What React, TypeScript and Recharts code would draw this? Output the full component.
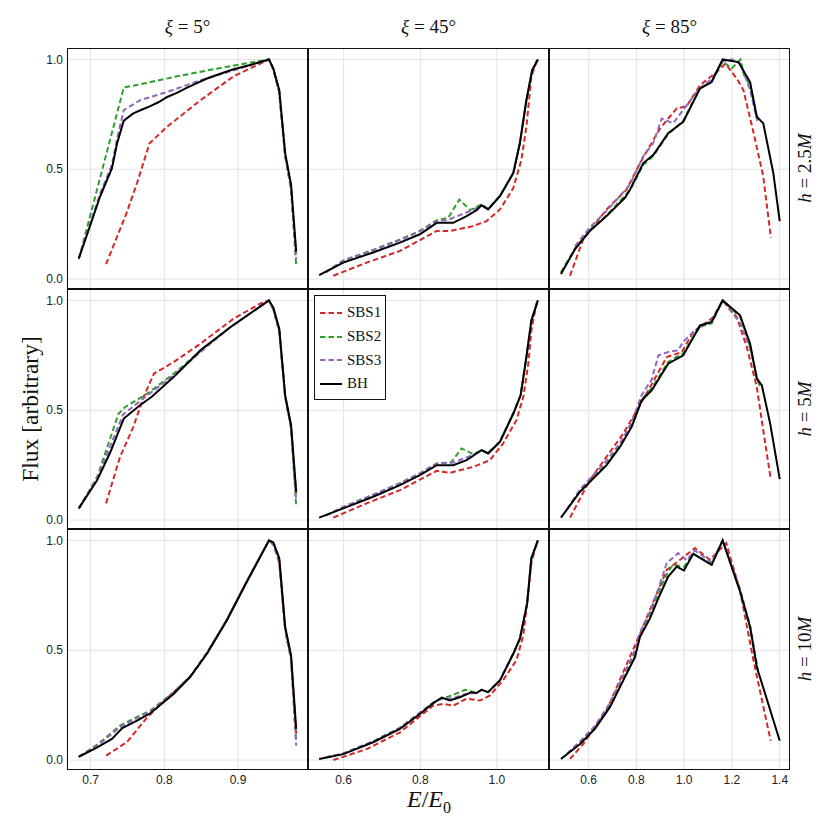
import { LineChart, Line, XAxis, YAxis, CartesianGrid } from "recharts";

type Pt = [number, number];

// ---- h = 2.5M ----
const h25_xi5_sbs1: Pt[] = [[0.721,0.068],[0.749,0.302],[0.763,0.437],[0.780,0.618],[0.804,0.694],[0.849,0.814],[0.894,0.923],[0.942,1.0],[0.948,0.955],[0.956,0.855],[0.964,0.565],[0.972,0.42],[0.979,0.10]];
const h25_xi5_sbs2: Pt[] = [[0.684,0.09],[0.745,0.872],[0.772,0.890],[0.813,0.920],[0.871,0.958],[0.942,1.0],[0.948,0.955],[0.956,0.85],[0.964,0.56],[0.972,0.41],[0.979,0.06]];
const h25_xi5_sbs3: Pt[] = [[0.684,0.094],[0.713,0.39],[0.729,0.52],[0.736,0.64],[0.745,0.769],[0.767,0.814],[0.804,0.852],[0.849,0.905],[0.894,0.950],[0.942,1.0],[0.948,0.955],[0.956,0.85],[0.964,0.56],[0.972,0.41],[0.979,0.09]];
const h25_xi5_bh: Pt[] = [[0.684,0.094],[0.697,0.22],[0.713,0.377],[0.729,0.505],[0.736,0.618],[0.745,0.721],[0.758,0.754],[0.770,0.772],[0.781,0.787],[0.792,0.805],[0.804,0.829],[0.817,0.848],[0.831,0.872],[0.845,0.893],[0.858,0.913],[0.876,0.935],[0.894,0.955],[0.918,0.976],[0.942,1.0],[0.948,0.958],[0.956,0.860],[0.964,0.573],[0.972,0.430],[0.979,0.125]];

const h25_xi45_sbs1: Pt[] = [[0.573,0.015],[0.660,0.075],[0.747,0.128],[0.843,0.219],[0.877,0.219],[0.938,0.241],[0.973,0.264],[1.008,0.317],[1.043,0.415],[1.064,0.543],[1.077,0.694],[1.090,0.920],[1.105,1.0]];
const h25_xi45_sbs2: Pt[] = [[0.553,0.03],[0.599,0.085],[0.677,0.133],[0.747,0.18],[0.799,0.22],[0.843,0.268],[0.873,0.279],[0.902,0.362],[0.930,0.314],[0.960,0.34],[0.977,0.32],[1.008,0.38],[1.043,0.485],[1.060,0.62],[1.077,0.815],[1.092,0.95],[1.107,1.0]];
const h25_xi45_sbs3: Pt[] = [[0.553,0.03],[0.599,0.082],[0.677,0.13],[0.747,0.177],[0.799,0.217],[0.843,0.265],[0.873,0.27],[0.930,0.31],[0.960,0.335],[0.977,0.318],[1.008,0.378],[1.043,0.484],[1.060,0.619],[1.077,0.814],[1.092,0.95],[1.107,1.0]];
const h25_xi45_bh: Pt[] = [[0.536,0.018],[0.599,0.075],[0.677,0.121],[0.747,0.166],[0.799,0.204],[0.843,0.256],[0.886,0.256],[0.921,0.287],[0.947,0.314],[0.960,0.336],[0.977,0.317],[1.008,0.377],[1.043,0.483],[1.060,0.618],[1.077,0.814],[1.092,0.950],[1.107,1.0]];

const h25_xi85_sbs1: Pt[] = [[0.522,0.015],[0.577,0.181],[0.675,0.317],[0.759,0.407],[0.815,0.528],[0.899,0.686],[0.969,0.777],[1.010,0.787],[1.066,0.882],[1.136,0.943],[1.173,0.98],[1.220,0.913],[1.248,0.860],[1.291,0.664],[1.331,0.467],[1.363,0.189]];
const h25_xi85_sbs2: Pt[] = [[0.484,0.03],[0.543,0.14],[0.605,0.222],[0.675,0.29],[0.773,0.405],[0.829,0.52],[0.871,0.56],[0.933,0.66],[0.996,0.72],[1.066,0.87],[1.115,0.90],[1.161,0.99],[1.20,0.96],[1.236,1.0],[1.25,0.93],[1.276,0.88],[1.306,0.73]];
const h25_xi85_sbs3: Pt[] = [[0.543,0.15],[0.605,0.235],[0.675,0.31],[0.773,0.43],[0.829,0.56],[0.871,0.62],[0.906,0.731],[0.954,0.709],[0.996,0.77],[1.066,0.87],[1.115,0.91],[1.161,0.99],[1.20,1.0],[1.236,0.98],[1.276,0.86],[1.306,0.72]];
const h25_xi85_bh: Pt[] = [[0.484,0.023],[0.543,0.136],[0.605,0.219],[0.675,0.287],[0.717,0.332],[0.752,0.37],[0.773,0.407],[0.808,0.483],[0.829,0.528],[0.871,0.566],[0.933,0.664],[0.996,0.716],[1.066,0.867],[1.115,0.897],[1.161,1.0],[1.227,0.988],[1.276,0.897],[1.304,0.739],[1.331,0.709],[1.373,0.483],[1.400,0.264]];

// ---- h = 5M ----
const h5_xi5_sbs1: Pt[] = [[0.721,0.076],[0.740,0.288],[0.758,0.424],[0.772,0.561],[0.786,0.667],[0.813,0.720],[0.849,0.803],[0.894,0.917],[0.930,0.985],[0.942,1.0],[0.948,0.96],[0.956,0.865],[0.964,0.565],[0.972,0.425],[0.979,0.12]];
const h5_xi5_sbs2: Pt[] = [[0.684,0.053],[0.709,0.197],[0.738,0.485],[0.747,0.515],[0.777,0.576],[0.813,0.667],[0.858,0.795],[0.890,0.879],[0.942,1.0],[0.948,0.96],[0.956,0.86],[0.964,0.56],[0.972,0.42],[0.979,0.06]];
const h5_xi5_sbs3: Pt[] = [[0.684,0.053],[0.709,0.19],[0.744,0.48],[0.777,0.568],[0.813,0.66],[0.858,0.79],[0.890,0.879],[0.942,1.0],[0.948,0.96],[0.956,0.86],[0.964,0.56],[0.972,0.42],[0.979,0.08]];
const h5_xi5_bh: Pt[] = [[0.684,0.053],[0.709,0.182],[0.727,0.311],[0.745,0.462],[0.767,0.523],[0.783,0.561],[0.813,0.652],[0.849,0.773],[0.890,0.879],[0.942,1.0],[0.948,0.967],[0.956,0.871],[0.964,0.568],[0.972,0.432],[0.979,0.129]];

const h5_xi45_sbs1: Pt[] = [[0.573,0.011],[0.660,0.076],[0.747,0.136],[0.843,0.224],[0.877,0.215],[0.938,0.242],[0.982,0.273],[1.016,0.348],[1.051,0.455],[1.069,0.561],[1.082,0.712],[1.090,0.864],[1.105,1.0]];
const h5_xi45_sbs2: Pt[] = [[0.553,0.02],[0.599,0.06],[0.677,0.115],[0.747,0.168],[0.799,0.213],[0.843,0.258],[0.880,0.262],[0.908,0.326],[0.938,0.30],[0.960,0.318],[0.977,0.305],[1.008,0.358],[1.043,0.487],[1.062,0.57],[1.077,0.742],[1.090,0.909],[1.107,1.0]];
const h5_xi45_sbs3: Pt[] = [[0.553,0.02],[0.599,0.06],[0.677,0.115],[0.747,0.167],[0.799,0.212],[0.843,0.258],[0.886,0.262],[0.921,0.285],[0.947,0.305],[0.960,0.318],[0.977,0.305],[1.008,0.358],[1.043,0.487],[1.062,0.57],[1.077,0.742],[1.090,0.909],[1.107,1.0]];
const h5_xi45_bh: Pt[] = [[0.536,0.011],[0.599,0.053],[0.677,0.106],[0.747,0.159],[0.799,0.205],[0.843,0.25],[0.886,0.25],[0.921,0.273],[0.947,0.303],[0.960,0.318],[0.977,0.303],[1.008,0.356],[1.043,0.485],[1.062,0.568],[1.077,0.742],[1.090,0.909],[1.107,1.0]];

const h5_xi85_sbs1: Pt[] = [[0.522,0.011],[0.605,0.182],[0.745,0.394],[0.815,0.523],[0.927,0.742],[0.990,0.765],[1.038,0.856],[1.122,0.924],[1.161,1.0],[1.220,0.924],[1.262,0.788],[1.304,0.606],[1.331,0.409],[1.362,0.189]];
const h5_xi85_sbs2: Pt[] = [[0.51,0.05],[0.564,0.135],[0.675,0.255],[0.731,0.34],[0.780,0.43],[0.822,0.55],[0.864,0.60],[0.933,0.72],[0.996,0.76],[1.066,0.88],[1.115,0.895],[1.161,1.0],[1.234,0.925],[1.276,0.79],[1.304,0.645],[1.32,0.60]];
const h5_xi85_sbs3: Pt[] = [[0.51,0.05],[0.564,0.14],[0.675,0.27],[0.731,0.35],[0.780,0.445],[0.822,0.57],[0.864,0.64],[0.892,0.75],[0.933,0.765],[0.975,0.773],[0.996,0.811],[1.04,0.86],[1.115,0.91],[1.161,1.0],[1.236,0.894],[1.276,0.78],[1.31,0.63]];
const h5_xi85_bh: Pt[] = [[0.484,0.011],[0.564,0.129],[0.675,0.25],[0.731,0.333],[0.780,0.424],[0.822,0.545],[0.864,0.591],[0.933,0.712],[0.996,0.75],[1.066,0.886],[1.115,0.902],[1.161,1.0],[1.234,0.932],[1.276,0.803],[1.304,0.644],[1.325,0.614],[1.360,0.439],[1.400,0.186]];

// ---- h = 10M ----
const h10_xi5_sbs1: Pt[] = [[0.721,0.02],[0.749,0.081],[0.777,0.195],[0.800,0.27],[0.835,0.378],[0.858,0.485],[0.885,0.64],[0.912,0.815],[0.942,1.0],[0.948,0.99],[0.956,0.915],[0.964,0.6],[0.972,0.47],[0.979,0.12]];
const h10_xi5_sbs2: Pt[] = [[0.684,0.015],[0.709,0.07],[0.740,0.157],[0.758,0.188],[0.781,0.225],[0.813,0.31],[0.835,0.38],[0.858,0.49],[0.885,0.64],[0.912,0.812],[0.942,1.0],[0.948,0.98],[0.956,0.9],[0.964,0.59],[0.972,0.46],[0.979,0.08]];
const h10_xi5_sbs3: Pt[] = [[0.684,0.015],[0.709,0.065],[0.740,0.15],[0.758,0.183],[0.781,0.22],[0.813,0.306],[0.835,0.38],[0.858,0.488],[0.885,0.638],[0.912,0.812],[0.942,1.0],[0.948,0.98],[0.956,0.9],[0.964,0.59],[0.972,0.46],[0.979,0.065]];
const h10_xi5_bh: Pt[] = [[0.684,0.015],[0.709,0.058],[0.729,0.096],[0.743,0.146],[0.763,0.18],[0.781,0.213],[0.813,0.302],[0.835,0.378],[0.858,0.485],[0.885,0.637],[0.912,0.812],[0.942,1.0],[0.948,0.991],[0.956,0.919],[0.964,0.607],[0.972,0.477],[0.979,0.142]];

const h10_xi45_sbs1: Pt[] = [[0.573,0.0],[0.660,0.05],[0.747,0.126],[0.834,0.248],[0.860,0.256],[0.886,0.248],[0.921,0.279],[0.956,0.271],[0.982,0.294],[1.016,0.363],[1.051,0.454],[1.069,0.569],[1.082,0.767],[1.090,0.897],[1.105,0.995]];
const h10_xi45_sbs2: Pt[] = [[0.553,0.012],[0.599,0.03],[0.677,0.085],[0.747,0.147],[0.799,0.215],[0.834,0.262],[0.856,0.28],[0.882,0.294],[0.917,0.32],[0.947,0.305],[0.960,0.32],[0.977,0.309],[1.008,0.363],[1.043,0.485],[1.060,0.553],[1.079,0.713],[1.090,0.919],[1.107,1.0]];
const h10_xi45_sbs3: Pt[] = [[0.553,0.012],[0.599,0.03],[0.677,0.085],[0.747,0.147],[0.799,0.216],[0.834,0.262],[0.856,0.28],[0.882,0.28],[0.917,0.3],[0.947,0.305],[0.960,0.32],[0.977,0.309],[1.008,0.363],[1.043,0.485],[1.060,0.553],[1.079,0.713],[1.090,0.919],[1.107,1.0]];
const h10_xi45_bh: Pt[] = [[0.536,0.005],[0.599,0.027],[0.677,0.081],[0.747,0.142],[0.799,0.21],[0.834,0.259],[0.856,0.284],[0.877,0.271],[0.903,0.286],[0.934,0.309],[0.947,0.305],[0.960,0.32],[0.977,0.309],[1.008,0.363],[1.043,0.485],[1.060,0.553],[1.079,0.713],[1.090,0.919],[1.107,1.0]];

const h10_xi85_sbs1: Pt[] = [[0.522,0.005],[0.577,0.073],[0.675,0.225],[0.815,0.576],[0.927,0.866],[0.983,0.912],[1.045,0.965],[1.108,0.912],[1.176,0.988],[1.234,0.77],[1.29,0.454],[1.362,0.088]];
const h10_xi85_sbs2: Pt[] = [[0.51,0.03],[0.564,0.08],[0.626,0.15],[0.689,0.25],[0.745,0.375],[0.794,0.49],[0.815,0.575],[0.857,0.66],[0.892,0.76],[0.933,0.86],[0.954,0.889],[0.999,0.88],[1.038,0.94],[1.115,0.89],[1.161,1.0],[1.234,0.77],[1.276,0.6],[1.31,0.40]];
const h10_xi85_sbs3: Pt[] = [[0.51,0.03],[0.564,0.085],[0.626,0.155],[0.689,0.26],[0.745,0.385],[0.794,0.50],[0.815,0.58],[0.857,0.675],[0.892,0.78],[0.927,0.897],[0.975,0.942],[1.01,0.91],[1.045,0.954],[1.115,0.9],[1.161,1.0],[1.234,0.78],[1.276,0.61],[1.31,0.40]];
const h10_xi85_bh: Pt[] = [[0.484,0.005],[0.564,0.073],[0.626,0.142],[0.689,0.241],[0.745,0.363],[0.794,0.469],[0.815,0.561],[0.857,0.645],[0.892,0.737],[0.933,0.835],[0.969,0.881],[0.999,0.863],[1.038,0.939],[1.115,0.889],[1.161,1.0],[1.234,0.767],[1.276,0.607],[1.304,0.424],[1.400,0.088]];

const SERIES_NAMES = ["SBS1", "SBS2", "SBS3", "BH"];
const SERIES_COLORS = ["#d62728", "#2ca02c", "#9467bd", "#000000"];
const XI_VALUES = ["5", "45", "85"];
const H_VALUES = ["2.5", "5", "10"];
const X_TICKS = [[0.7, 0.8, 0.9], [0.6, 0.8, 1.0], [0.6, 0.8, 1.0, 1.2, 1.4]];
const Y_TICKS = [0, 0.5, 1.0];
const X_DOMAINS: [number, number][] = [[0.668, 0.995], [0.507, 1.136], [0.434, 1.443]];
const Y_DOMAIN: [number, number] = [-0.043, 1.052];

// rows = h, cols = xi, each cell = [SBS1, SBS2, SBS3, BH]
const PANELS: Pt[][][][] = [
  [
    [h25_xi5_sbs1, h25_xi5_sbs2, h25_xi5_sbs3, h25_xi5_bh],
    [h25_xi45_sbs1, h25_xi45_sbs2, h25_xi45_sbs3, h25_xi45_bh],
    [h25_xi85_sbs1, h25_xi85_sbs2, h25_xi85_sbs3, h25_xi85_bh],
  ],
  [
    [h5_xi5_sbs1, h5_xi5_sbs2, h5_xi5_sbs3, h5_xi5_bh],
    [h5_xi45_sbs1, h5_xi45_sbs2, h5_xi45_sbs3, h5_xi45_bh],
    [h5_xi85_sbs1, h5_xi85_sbs2, h5_xi85_sbs3, h5_xi85_bh],
  ],
  [
    [h10_xi5_sbs1, h10_xi5_sbs2, h10_xi5_sbs3, h10_xi5_bh],
    [h10_xi45_sbs1, h10_xi45_sbs2, h10_xi45_sbs3, h10_xi45_bh],
    [h10_xi85_sbs1, h10_xi85_sbs2, h10_xi85_sbs3, h10_xi85_bh],
  ],
];

const COL_LEFT = [67, 308, 549];
const ROW_TOP = [48, 288.5, 529];
const PANEL_W = 241;
const PANEL_H = 240.5;
const Y_AXIS_W = 40;
const X_AXIS_H = 26;

const SERIF = "'Liberation Serif', 'DejaVu Serif', serif";
const SANS = "'Liberation Sans', Arial, sans-serif";

const toPoints = (arr: Pt[]) => arr.map(([e, f]) => ({ e, f }));

function Panel({ row, col }: { row: number; col: number }) {
  const yw = col === 0 ? Y_AXIS_W : 0;
  const xh = row === 2 ? X_AXIS_H : 0;
  const cells = PANELS[row][col];
  return (
    <>
      <div style={{ position: "absolute", left: COL_LEFT[col] - yw, top: ROW_TOP[row] }}>
        <LineChart
          width={PANEL_W + yw}
          height={PANEL_H + xh}
          margin={{ top: 0, right: 0, bottom: 0, left: 0 }}
        >
          <CartesianGrid stroke="#e3e3e3" strokeWidth={1} />
          <XAxis
            type="number"
            dataKey="e"
            domain={X_DOMAINS[col]}
            ticks={X_TICKS[col]}
            allowDataOverflow
            hide={row !== 2}
            height={xh}
            axisLine={false}
            tickLine={false}
            tickSize={0}
            tickMargin={6}
            tick={{ fill: "#222", fontSize: 12, fontFamily: SANS }}
            tickFormatter={(v: number) => v.toFixed(1)}
          />
          <YAxis
            type="number"
            domain={Y_DOMAIN}
            ticks={Y_TICKS}
            allowDataOverflow
            hide={col !== 0}
            width={yw}
            axisLine={false}
            tickLine={false}
            tickSize={0}
            tickMargin={4}
            tick={{ fill: "#222", fontSize: 12, fontFamily: SANS }}
            tickFormatter={(v: number) => v.toFixed(1)}
          />
          {cells.map((pts, i) => (
            <Line
              key={SERIES_NAMES[i]}
              data={toPoints(pts)}
              dataKey="f"
              type="linear"
              stroke={SERIES_COLORS[i]}
              strokeWidth={2}
              strokeDasharray={i === 3 ? undefined : "5.5 3"}
              dot={false}
              isAnimationActive={false}
            />
          ))}
        </LineChart>
      </div>
      <div
        style={{
          position: "absolute",
          left: COL_LEFT[col],
          top: ROW_TOP[row],
          width: PANEL_W,
          height: PANEL_H,
          border: "1px solid #111",
          boxSizing: "border-box",
          pointerEvents: "none",
        }}
      />
    </>
  );
}

function LegendBox() {
  return (
    <div
      style={{
        position: "absolute",
        left: 314,
        top: 295,
        width: 72,
        height: 105,
        border: "1px solid #111",
        boxSizing: "border-box",
        background: "#fff",
        padding: "5px 0",
      }}
    >
      {SERIES_NAMES.map((name, i) => (
        <div key={name} style={{ height: 23.7, display: "flex", alignItems: "center" }}>
          <svg width={32} height={10} style={{ flex: "none" }}>
            <line
              x1={5}
              x2={27}
              y1={5}
              y2={5}
              stroke={SERIES_COLORS[i]}
              strokeWidth={2}
              strokeDasharray={i === 3 ? undefined : "5.5 3"}
            />
          </svg>
          <span style={{ fontFamily: SERIF, fontSize: 15, color: "#111" }}>{name}</span>
        </div>
      ))}
    </div>
  );
}

export default function App() {
  const colCenter = (c: number) => COL_LEFT[c] + PANEL_W / 2;
  const rowCenter = (r: number) => ROW_TOP[r] + PANEL_H / 2;
  return (
    <div style={{ position: "absolute", left: 0, top: 0, width: 830, height: 830, background: "#fff" }}>
      {[0, 1, 2].map((r) => [0, 1, 2].map((c) => <Panel key={`${r}-${c}`} row={r} col={c} />))}

      {XI_VALUES.map((xi, c) => (
        <div
          key={xi}
          style={{
            position: "absolute",
            left: colCenter(c) - 60,
            width: 120,
            top: 16,
            textAlign: "center",
            fontFamily: SERIF,
            fontSize: 19,
            color: "#111",
          }}
        >
          <i>ξ</i> = {xi}°
        </div>
      ))}

      {H_VALUES.map((h, r) => (
        <div
          key={h}
          style={{
            position: "absolute",
            left: 805 - 60,
            top: rowCenter(r) - 12,
            width: 120,
            height: 24,
            lineHeight: "24px",
            textAlign: "center",
            transform: "rotate(-90deg)",
            fontFamily: SERIF,
            fontSize: 19,
            color: "#111",
          }}
        >
          <i>h</i> = {h}<i>M</i>
        </div>
      ))}

      <div
        style={{
          position: "absolute",
          left: 30 - 100,
          top: 409 - 14,
          width: 200,
          height: 28,
          lineHeight: "28px",
          textAlign: "center",
          transform: "rotate(-90deg)",
          fontFamily: SERIF,
          fontSize: 23.5,
          color: "#111",
        }}
      >
        Flux [arbitrary]
      </div>

      <div
        style={{
          position: "absolute",
          left: 429 - 60,
          top: 786,
          width: 120,
          textAlign: "center",
          fontFamily: SERIF,
          fontSize: 24,
          color: "#111",
        }}
      >
        <i>E</i>/<i>E</i>
        <sub style={{ fontSize: 16 }}>0</sub>
      </div>

      <LegendBox />
    </div>
  );
}
